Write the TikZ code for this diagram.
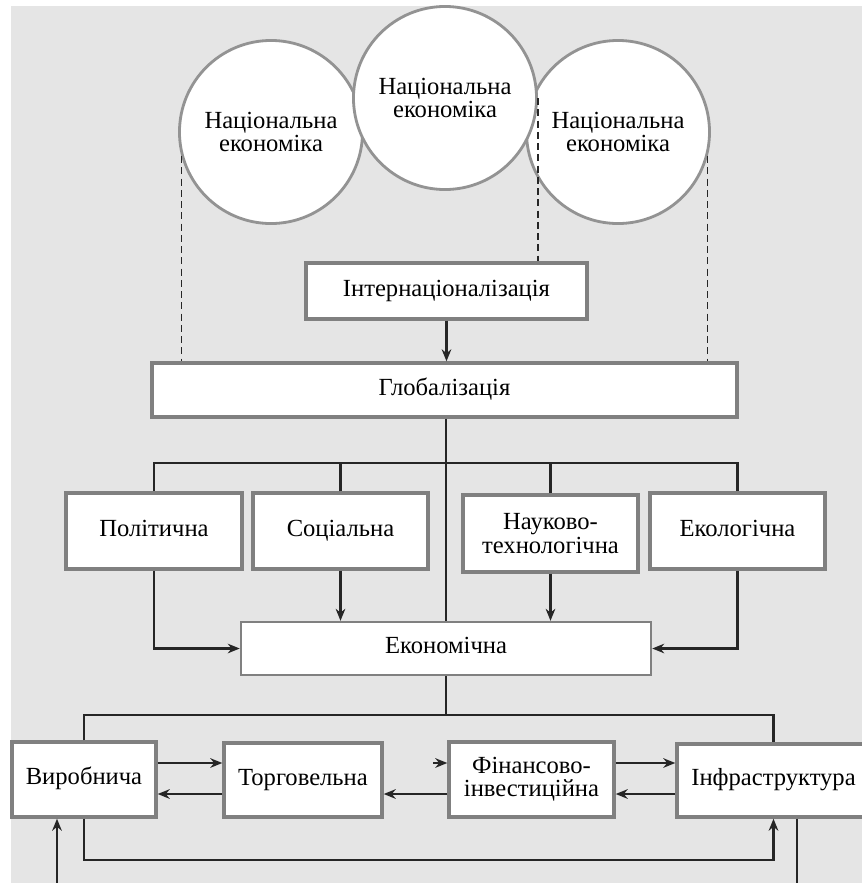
\documentclass[tikz,border=0pt]{standalone}
\usepackage{fontspec}
\setmainfont{Liberation Serif}
\usetikzlibrary{arrows.meta,calc}

\begin{document}
\begin{tikzpicture}[
    x=0.025cm, y=-0.025cm, line width=1.5pt,
    every node/.style={font=\fontsize{17.5}{16.5}\selectfont, inner sep=0pt},
    eco node/.style={circle, draw=gray!85, line width=2pt, fill=white, minimum size=4.575cm, align=center},
    box node/.style={rectangle, draw=gray, line width=2.4pt, fill=white, text height=2.2ex, text depth=0.5ex},
    two node/.style={box node, align=center, text height=, text depth=},
    flat node/.style={box node, line width=1.7pt},
    link/.style={draw=black!85},
    arrow link/.style={link, -{Stealth[length=3mm,width=2.4mm]}},
    dash link/.style={draw=black!85, line width=0.9pt, dash pattern=on 5pt off 3pt}
]
    \useasboundingbox (0,0) rectangle (862,883);
    \clip (0,0) rectangle (862,883);
    \fill[gray!20] (11,6) rectangle (870,890);

    % national economies
    \node[eco node] (nat1) at (271,132) {Національна\\економіка};
    \node[eco node] (nat3) at (618,132) {Національна\\економіка};
    \node[eco node] (nat2) at (445,98)  {Національна\\економіка};

    \node[box node, minimum width=7.025cm, minimum height=1.4cm]   (inter) at (446.5,291) {Інтернаціоналізація};
    \node[box node, minimum width=14.625cm, minimum height=1.35cm] (glob)  at (444.5,390) {Глобалізація};

    % spheres
    \node[box node, minimum width=4.4cm, minimum height=1.9cm]     (pol)  at (154,531)   {Політична};
    \node[box node, minimum width=4.375cm, minimum height=1.9cm]   (soc)  at (340.5,531) {Соціальна};
    \node[two node, minimum width=4.375cm, minimum height=1.925cm] (tech) at (550.5,533.5) {Науково-\\технологічна};
    \node[box node, minimum width=4.375cm, minimum height=1.9cm]   (ecol) at (737.5,531) {Екологічна};
    \node[flat node, minimum width=10.25cm, minimum height=1.325cm] (econ) at (446,648.5) {Економічна};

    % branches
    \node[box node, minimum width=3.6cm, minimum height=1.875cm]   (prod)  at (84,779.5)    {Виробнича};
    \node[box node, minimum width=3.95cm, minimum height=1.85cm]   (trade) at (303,780)     {Торговельна};
    \node[two node, minimum width=4.125cm, minimum height=1.875cm] (fin)   at (531.5,779.5) {Фінансово-\\інвестиційна};
    \node[box node, minimum width=4.825cm, minimum height=1.825cm] (infra) at (773.5,780.5) {Інфраструктура};

    \coordinate (bus1) at (0,463);
    \coordinate (bus2) at (0,715);
    \coordinate (loop) at (0,860);
    \coordinate (upr)  at (0,763);
    \coordinate (lwr)  at (0,794);
    \coordinate (inprod)  at (57,883);
    \coordinate (outinfra) at (797,883);

    \path[dash link] (nat1.195) -- (nat1.195 |- glob.north)
        (nat3.345) -- (nat3.345 |- glob.north)
        (nat2.east) -- (nat2.east |- inter.north);

    \path[arrow link] (inter.south) -- (inter.south |- glob.north);

    \path[link] (econ.north |- glob.south) -- (econ.north)
        (pol.north) -- (pol.north |- bus1) -- (ecol.north |- bus1) -- (ecol.north)
        (soc.north) -- (soc.north |- bus1)
        (tech.north) -- (tech.north |- bus1);

    \path[arrow link] (pol.south) |- (econ.west);
    \path[arrow link] (ecol.south) |- (econ.east);
    \path[arrow link] (soc.south) -- (soc.south |- econ.north);
    \path[arrow link] (tech.south) -- (tech.south |- econ.north);

    \path[link] (econ.south) -- (econ.south |- bus2)
        (prod.north) -- (prod.north |- bus2) -- (infra.north |- bus2) -- (infra.north);

    \path[arrow link] (prod.east |- upr) -- (trade.west |- upr);
    \path[arrow link] (trade.west |- lwr) -- (prod.east |- lwr);
    \path[arrow link] (fin.west |- lwr) -- (trade.east |- lwr);
    \path[arrow link] ($(fin.west |- upr)+(-14,0)$) -- (fin.west |- upr);
    \path[arrow link] (fin.east |- upr) -- (infra.west |- upr);
    \path[arrow link] (infra.west |- lwr) -- (fin.east |- lwr);

    \path[arrow link] (prod.south) |- (loop -| infra.south) -- (infra.south);
    \path[arrow link] (inprod) -- (inprod |- prod.south);
    \path[link] (outinfra |- infra.south) -- (outinfra);
\end{tikzpicture}
\end{document}
